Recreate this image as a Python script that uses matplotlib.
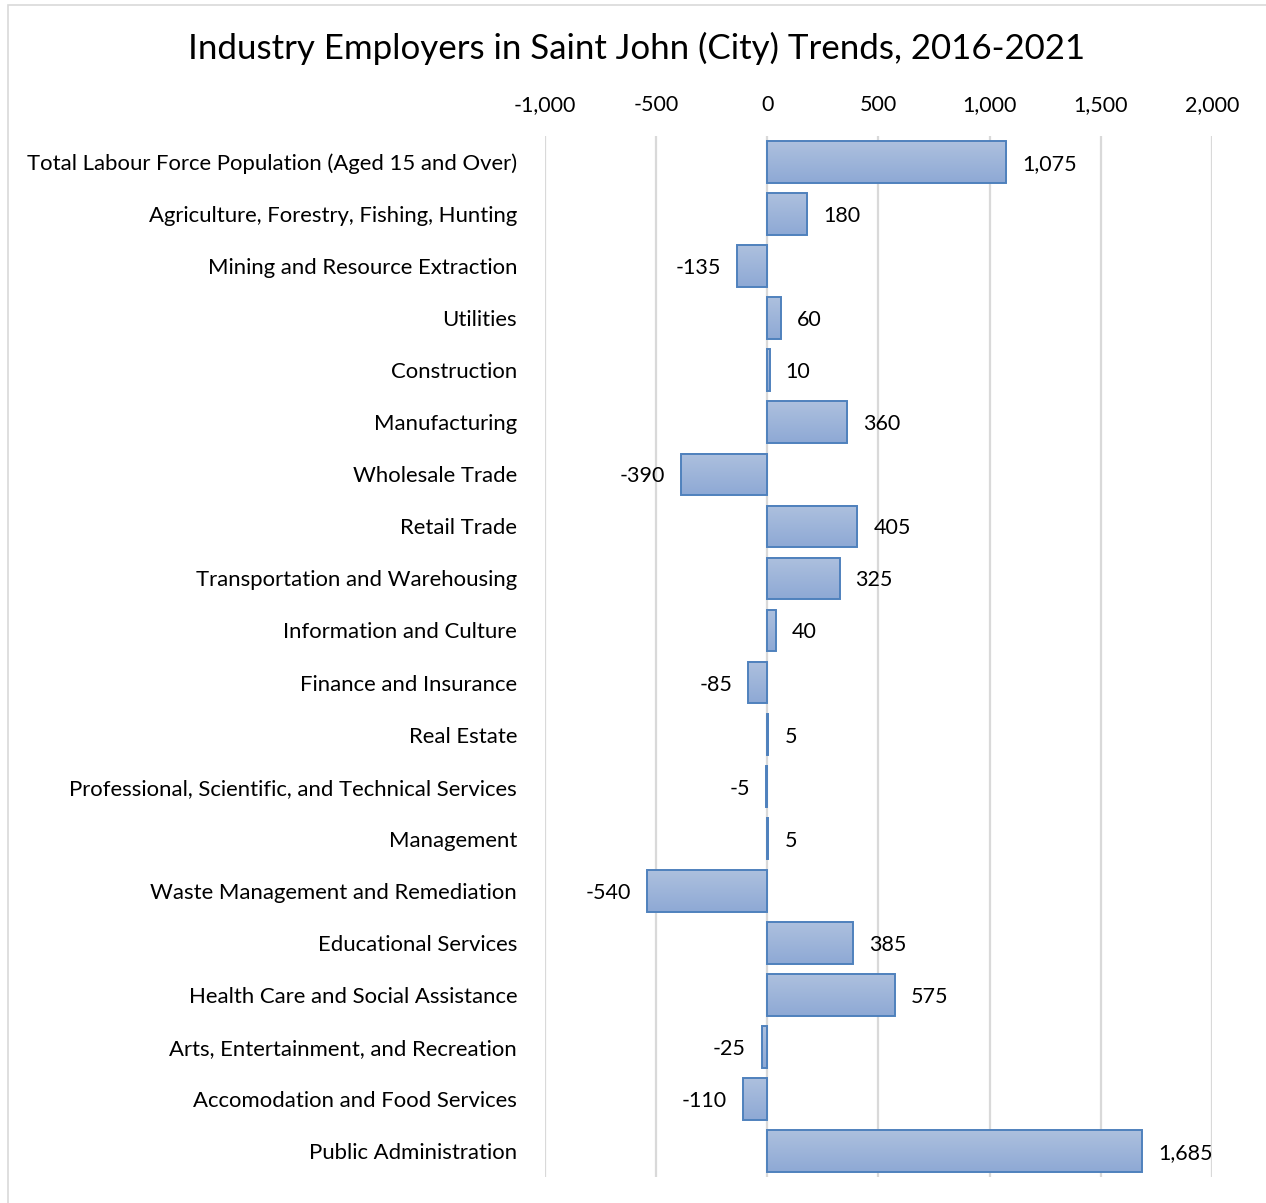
import matplotlib.pyplot as plt
import matplotlib.patches as patches
import numpy as np
from matplotlib.ticker import FuncFormatter

industries = [
    'Total Labour Force Population (Aged 15 and Over)',
    'Agriculture, Forestry, Fishing, Hunting',
    'Mining and Resource Extraction',
    'Utilities',
    'Construction',
    'Manufacturing',
    'Wholesale Trade',
    'Retail Trade',
    'Transportation and Warehousing',
    'Information and Culture',
    'Finance and Insurance',
    'Real Estate',
    'Professional, Scientific, and Technical Services',
    'Management',
    'Waste Management and Remediation',
    'Educational Services',
    'Health Care and Social Assistance',
    'Arts, Entertainment, and Recreation',
    'Accomodation and Food Services',
    'Public Administration',
]
change = [1075, 180, -135, 60, 10, 360, -390, 405, 325, 40,
          -85, 5, -5, 5, -540, 385, 575, -25, -110, 1685]
ticks = [-1000, -500, 0, 500, 1000, 1500, 2000]

plt.rcParams['font.family'] = ['Lato', 'DejaVu Sans']
FS = 15.5

W, H = 1266, 1203
fig = plt.figure(figsize=(W / 100, H / 100), dpi=100)

# chart frame
fig.add_artist(patches.Rectangle((8 / W, -0.01), 1.0, 1 - 5 / H + 0.01,
                                 transform=fig.transFigure, facecolor='none',
                                 edgecolor='#d9d9d9', linewidth=1.2))

ax = fig.add_axes([545 / W, 1 - 1177 / H, (1212 - 545) / W, (1177 - 136) / H])
n = len(industries)
y = np.arange(n)

for t in ticks:
    ax.axvline(t, color='#d9d9d9', linewidth=1.6, zorder=0)

bh = 0.8
ax.barh(y, change, height=bh, facecolor='none', edgecolor='#4f81bd',
        linewidth=1.4, zorder=3)

# vertical gradient fill per bar
grad = np.linspace(0, 1, 64).reshape(-1, 1)
cmap = plt.matplotlib.colors.LinearSegmentedColormap.from_list('bar', ['#adc0de', '#8ea9d5'])
for yi, v in zip(y, change):
    x0, x1 = min(0, v), max(0, v)
    ax.imshow(grad, cmap=cmap, aspect='auto', extent=(x0, x1, yi + bh / 2, yi - bh / 2),
              zorder=2, interpolation='bilinear')
ax.set_xlim(-1000, 2000)
ax.set_ylim(n - 0.5, -0.5)

for yi, v in zip(y, change):
    if v >= 0:
        ax.annotate(f'{v:,}', (v, yi), xytext=(11.5, 0), textcoords='offset points',
                    ha='left', va='center_baseline', fontsize=FS, color='#000000')
    else:
        ax.annotate(f'{v:,}', (v, yi), xytext=(-11.5, 0), textcoords='offset points',
                    ha='right', va='center_baseline', fontsize=FS, color='#000000')

ax.set_yticks(y)
ax.set_yticklabels(industries, fontsize=15.9, va='center_baseline')
ax.set_xticks(ticks)
ax.xaxis.set_major_formatter(FuncFormatter(lambda v, p: f'{int(v):,}'))
ax.xaxis.tick_top()
ax.tick_params(axis='x', length=0, labelsize=FS, pad=15)
ax.tick_params(axis='y', length=0, pad=20)
for s in ax.spines.values():
    s.set_visible(False)

fig.text(637 / W, 1 - 48 / H, 'Industry Employers in Saint John (City) Trends, 2016-2021',
         ha='center', va='center', fontsize=25.1, color='#000000')

fig.savefig('out.png', dpi=100)
